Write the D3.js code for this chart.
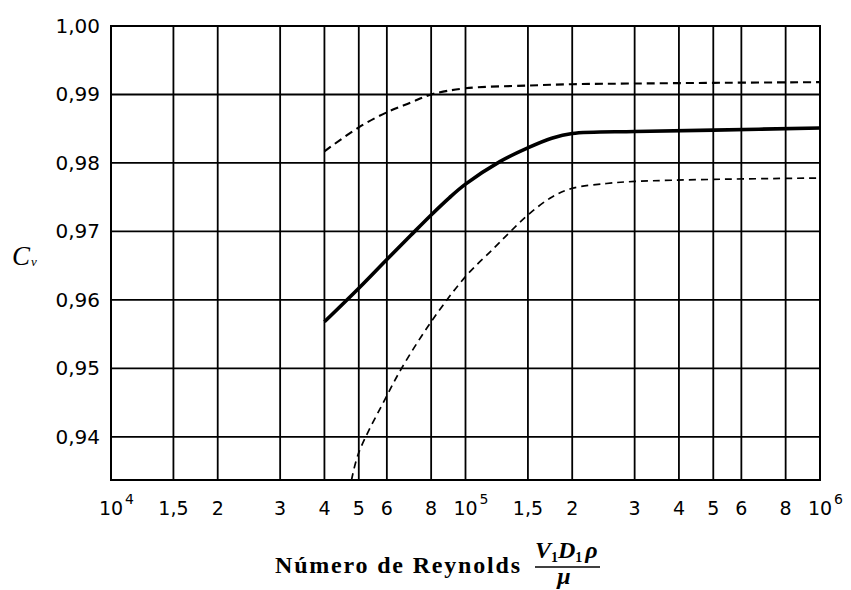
<!DOCTYPE html>
<html>
<head>
<meta charset="utf-8">
<script src="https://cdn.jsdelivr.net/npm/d3@7"></script>
<style>
  body { margin: 0; background: #fff; }
  .tick-label { font-family: "DejaVu Sans", sans-serif; fill: #000; }
  .serif { font-family: "Liberation Serif", "DejaVu Serif", serif; fill: #000; }
</style>
</head>
<body>
<div id="chart"></div>
<script>
// x axis ticks (log scale) and their printed labels
const xTicks = [1e4, 1.5e4, 2e4, 3e4, 4e4, 5e4, 6e4, 8e4, 1e5, 1.5e5, 2e5, 3e5, 4e5, 5e5, 6e5, 8e5, 1e6];
const xTickBase = ["10", "1,5", "2", "3", "4", "5", "6", "8", "10", "1,5", "2", "3", "4", "5", "6", "8", "10"];
const xTickSup  = ["4", "", "", "", "", "", "", "", "5", "", "", "", "", "", "", "", "6"];
const yTicks = [0.94, 0.95, 0.96, 0.97, 0.98, 0.99, 1.00];
const yTickLabels = ["0,94", "0,95", "0,96", "0,97", "0,98", "0,99", "1,00"];

// mean curve (solid)
const meanRe = [4e4, 5e4, 6e4, 7e4, 8e4, 9e4, 1e5, 1.25e5, 1.5e5, 1.75e5, 2e5, 3e5, 5e5, 1e6];
const meanCv = [0.9568, 0.9617, 0.9659, 0.9694, 0.9724, 0.9749, 0.9769, 0.9802, 0.9822, 0.9836, 0.9843, 0.9846, 0.9848, 0.9851];
// upper limit (dashed)
const upperRe = [4e4, 5e4, 6e4, 7e4, 8e4, 1e5, 1.5e5, 2e5, 3e5, 5e5, 1e6];
const upperCv = [0.9817, 0.9852, 0.9874, 0.9888, 0.9900, 0.9909, 0.9913, 0.9915, 0.9916, 0.9917, 0.9918];
// lower limit (dashed)
const lowerRe = [4.77e4, 5e4, 6e4, 6.6e4, 8e4, 1e5, 1.2e5, 1.34e5, 1.5e5, 1.75e5, 2e5, 2.5e5, 3e5, 5e5, 1e6];
const lowerCv = [0.9337, 0.9377, 0.9460, 0.9500, 0.9568, 0.9634, 0.9675, 0.9700, 0.9724, 0.9750, 0.9763, 0.9770, 0.9773, 0.9776, 0.9778];

const W = 851, H = 590;
const margin = {top: 26, right: 31, bottom: 110, left: 111},
    width = W - margin.left - margin.right,
    height = H - margin.top - margin.bottom;

const svg = d3.select("#chart").append("svg")
    .attr("width", W)
    .attr("height", H);

const g = svg.append("g")
    .attr("transform", "translate(" + margin.left + "," + margin.top + ")");

const x = d3.scaleLog().domain([1e4, 1e6]).range([0, width]);
const y = d3.scaleLinear().domain([0.9337, 1.0]).range([height, 0]);

// grid
g.append("g").selectAll("line")
    .data(xTicks)
    .join("line")
    .attr("x1", d => x(d)).attr("x2", d => x(d))
    .attr("y1", 0).attr("y2", height)
    .attr("stroke", "#000").attr("stroke-width", 1.8);

g.append("g").selectAll("line")
    .data(yTicks)
    .join("line")
    .attr("x1", 0).attr("x2", width)
    .attr("y1", d => y(d)).attr("y2", d => y(d))
    .attr("stroke", "#000").attr("stroke-width", 1.8);

// frame
g.append("rect")
    .attr("x", 0).attr("y", 0)
    .attr("width", width).attr("height", height)
    .attr("fill", "none")
    .attr("stroke", "#000").attr("stroke-width", 2);

// curves
const line = d3.line()
    .x(d => x(d[0]))
    .y(d => y(d[1]))
    .curve(d3.curveCatmullRom.alpha(0.5));

g.append("path")
    .datum(d3.zip(upperRe, upperCv))
    .attr("fill", "none").attr("stroke", "#000")
    .attr("stroke-width", 2.1)
    .attr("stroke-dasharray", "8,5")
    .attr("d", line);

g.append("path")
    .datum(d3.zip(lowerRe, lowerCv))
    .attr("fill", "none").attr("stroke", "#000")
    .attr("stroke-width", 1.7)
    .attr("stroke-dasharray", "7,5")
    .attr("d", line);

g.append("path")
    .datum(d3.zip(meanRe, meanCv))
    .attr("fill", "none").attr("stroke", "#000")
    .attr("stroke-width", 3.6)
    .attr("d", line);

// y tick labels
g.append("g").selectAll("text")
    .data(yTicks)
    .join("text")
    .attr("class", "tick-label")
    .attr("x", -11)
    .attr("y", d => y(d) + 7)
    .attr("text-anchor", "end")
    .style("font-size", "20px")
    .text((d, i) => yTickLabels[i]);

// x tick labels, superscript after the "10"
xTicks.forEach((t, i) => {
    const base = g.append("text")
        .attr("class", "tick-label")
        .attr("x", x(t))
        .attr("y", height + 35)
        .attr("text-anchor", "middle")
        .style("font-size", "19px")
        .text(xTickBase[i]);
    if (xTickSup[i]) {
        const w = base.node().getComputedTextLength();
        g.append("text")
            .attr("class", "tick-label")
            .attr("x", x(t) + w / 2 + 2)
            .attr("y", height + 24)
            .style("font-size", "14px")
            .text(xTickSup[i]);
    }
});

// y axis title C_v
const cv = svg.append("text")
    .attr("class", "serif")
    .attr("x", 12)
    .attr("y", 265)
    .style("font-size", "27px")
    .style("font-style", "italic");
cv.append("tspan").text("C");
cv.append("tspan").attr("dx", 1).attr("dy", 1).style("font-size", "13px").text("v");

// x axis title
svg.append("text")
    .attr("class", "serif")
    .attr("x", 275)
    .attr("y", 573)
    .attr("textLength", 245)
    .attr("lengthAdjust", "spacing")
    .style("font-size", "24px")
    .style("font-weight", "bold")
    .text("Número de Reynolds");

// fraction V1 D1 rho / mu
const num = svg.append("text")
    .attr("class", "serif")
    .attr("x", 535)
    .attr("y", 558)
    .style("font-size", "24px")
    .style("font-style", "italic")
    .style("font-weight", "bold");
num.append("tspan").text("V");
num.append("tspan").attr("dy", 4).style("font-size", "14px").style("font-style", "normal").text("1");
num.append("tspan").attr("dy", -4).text("D");
num.append("tspan").attr("dy", 4).style("font-size", "14px").style("font-style", "normal").text("1");
num.append("tspan").attr("dy", -4).attr("dx", 3).text("ρ");

svg.append("line")
    .attr("x1", 535).attr("x2", 600)
    .attr("y1", 567).attr("y2", 567)
    .attr("stroke", "#000").attr("stroke-width", 1.3);

svg.append("text")
    .attr("class", "serif")
    .attr("x", 564)
    .attr("y", 584)
    .attr("text-anchor", "middle")
    .style("font-size", "24px")
    .style("font-style", "italic")
    .style("font-weight", "bold")
    .text("μ");
</script>
</body>
</html>
